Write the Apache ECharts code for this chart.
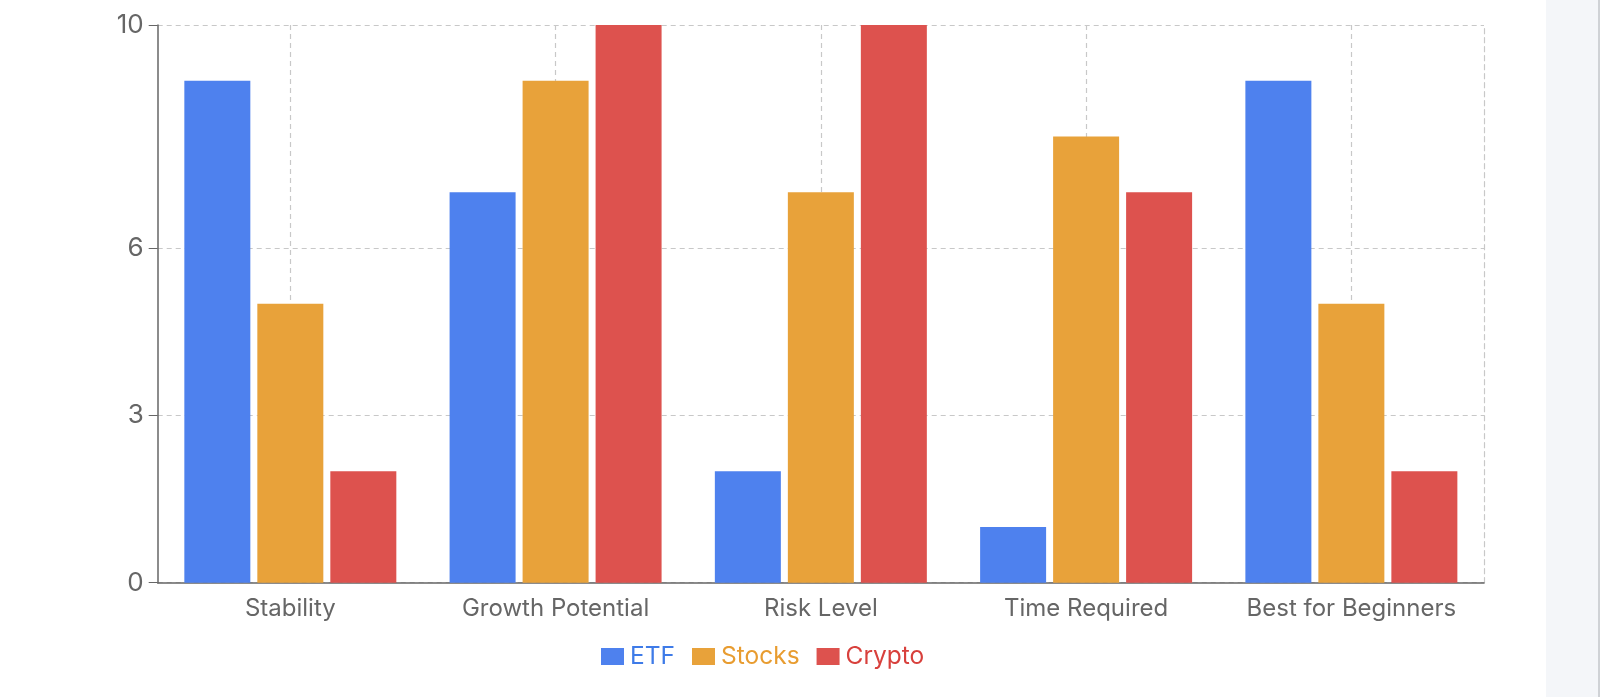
<!DOCTYPE html>
<html>
<head>
<meta charset="utf-8">
<script src="https://cdn.jsdelivr.net/npm/echarts@6/dist/echarts.min.js"></script>
<style>
  html, body { margin: 0; padding: 0; background: #fff; }
  #chart { position: absolute; left: 0; top: 0; width: 1600px; height: 697px; }
  #side { position: absolute; left: 1546px; top: 0; width: 52px; height: 697px; background: #f4f6f9; border-right: 2px solid #cfd2d6; }
</style>
</head>
<body>
<div id="chart"></div>
<div id="side"></div>
<script>
const categories = ['Stability', 'Growth Potential', 'Risk Level', 'Time Required', 'Best for Beginners'];
const etfValues = [9, 7, 2, 1, 9];
const stocksValues = [5, 9, 7, 8, 5];
const cryptoValues = [2, 10, 10, 7, 2];
const yTicks = [0, 3, 6, 10];

const colors = { ETF: '#4e81ee', Stocks: '#e8a23a', Crypto: '#dd524e' };
const textColors = { ETF: '#3e7be8', Stocks: '#e89c30', Crypto: '#d8403c' };
const font = 'Inter, "Noto Sans", sans-serif';

const chart = echarts.init(document.getElementById('chart'));

const makeSeries = (name, data) => ({
  name,
  type: 'bar',
  data,
  barWidth: 66,
  barGap: '10.6%',
  itemStyle: { color: colors[name] },
  emphasis: { disabled: true }
});

const option = {
  animation: false,
  textStyle: { fontFamily: font },
  grid: { left: 157.7, right: 116, top: 25, bottom: 114.3 },
  legend: {
    left: 596,
    top: 639,
    icon: 'rect',
    itemWidth: 23,
    itemHeight: 17,
    itemGap: 17,
    textStyle: { fontSize: 24.5, fontFamily: font, padding: [0, 0, 0, 1] },
    data: ['ETF', 'Stocks', 'Crypto'].map(n => ({ name: n, textStyle: { color: textColors[n] } }))
  },
  xAxis: {
    type: 'category',
    data: categories,
    axisLine: { lineStyle: { color: '#666', width: 1.5 } },
    axisTick: { alignWithLabel: true, interval: 0, length: 9, lineStyle: { color: '#666' } },
    axisLabel: { color: '#666', fontSize: 24, margin: 14, interval: 0, fontFamily: font },
    splitLine: { show: true, alignWithLabel: true, interval: 0, lineStyle: { color: '#c8c8c8', type: [5, 4], width: 1.2 } }
  },
  yAxis: [{
    type: 'value',
    min: 0,
    max: 10,
    axisLine: { show: true, lineStyle: { color: '#666', width: 1.5 } },
    axisTick: { show: true, length: 9, customValues: yTicks, lineStyle: { color: '#666' } },
    axisLabel: { color: '#666', fontSize: 26, margin: 14, customValues: yTicks, fontFamily: font },
    splitLine: { show: true, lineStyle: { color: '#c8c8c8', type: [5, 4], width: 1.2 } }
  }, {
    type: 'value',
    position: 'right',
    min: 0,
    max: 10,
    axisLine: { show: true, lineStyle: { color: '#c8c8c8', type: [5, 4], width: 1.2 } },
    axisTick: { show: false },
    axisLabel: { show: false },
    splitLine: { show: false }
  }],
  series: [
    makeSeries('ETF', etfValues),
    makeSeries('Stocks', stocksValues),
    makeSeries('Crypto', cryptoValues)
  ]
};

chart.setOption(option);
</script>
</body>
</html>
